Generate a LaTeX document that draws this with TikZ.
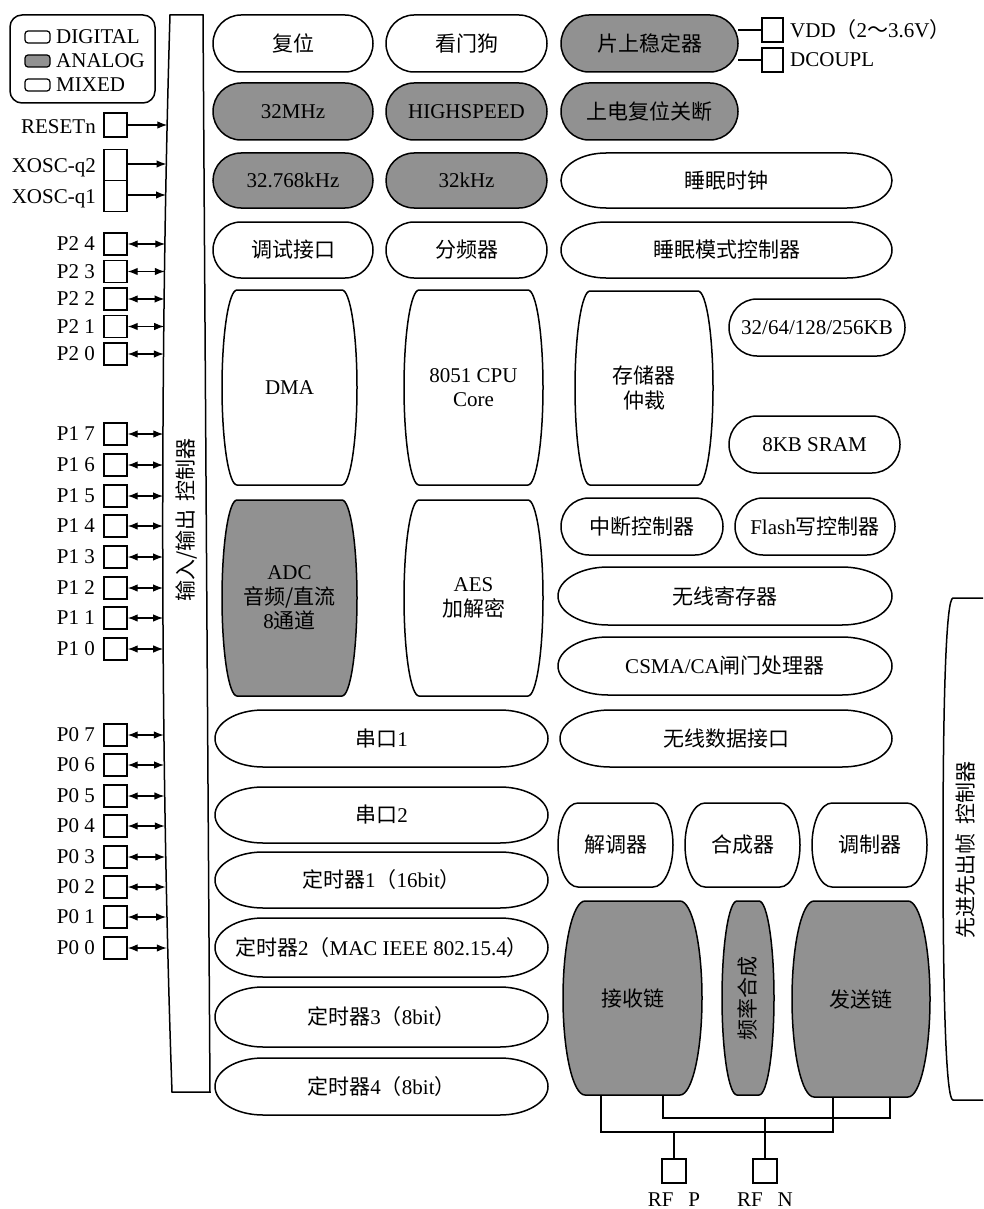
\documentclass[tikz,border=0pt]{standalone}
\usepackage{fontspec}
\setmainfont{Liberation Serif}
\newfontfamily\zh{Noto Sans CJK SC}
\usetikzlibrary{arrows.meta}
\pgfdeclarelayer{bg}
\pgfsetlayers{bg,main}
\definecolor{analog}{RGB}{145,145,145}
\tikzset{
 blkline/.style={draw=black, line width=1.5pt, fill=white},
 ana/.style={fill=analog},
 txt/.style={inner sep=0pt, align=center, font=\fontsize{21}{24.5}\selectfont},
 pinbox/.style={draw, line width=1.3pt, minimum width=23pt, minimum height=22pt, inner sep=0pt},
 pinlbl/.style={anchor=east, inner sep=0pt, font=\fontsize{21}{24}\selectfont},
 lbl/.style={inner sep=0pt, font=\fontsize{21}{24}\selectfont},
 swatch/.style={draw, line width=1.2pt, rounded corners=3pt, minimum width=25pt, minimum height=12pt, inner sep=0pt},
 io/.style={<->, >={Latex[length=10pt,width=7.5pt]}, line width=1.3pt},
 inarrow/.style={->, >={Latex[length=10pt,width=7.5pt]}, line width=1.3pt},
 wire/.style={line width=1.3pt},
}
\newcommand\blk[9]{%
 \pgfmathsetmacro\bxm{(#2+#4)/2}%
 \pgfmathsetmacro\bym{(#3+#5)/2}%
 \pgfmathsetmacro\bw{#4-#2}%
 \pgfmathsetmacro\bh{#5-#3}%
 \pgfmathsetmacro\bkx{0.5523*#6}%
 \pgfmathsetmacro\bky{0.5523*(#5-#3)/2}%
 \pgfmathsetmacro\bxa{#2+#6}%
 \pgfmathsetmacro\bxb{#4-#6}%
 \draw[blkline,#7] (\bxa,#3) -- (\bxb,#3) .. controls (\bxb+\bkx,#3) and (#4,\bym-\bky) .. (#4,\bym) .. controls (#4,\bym+\bky) and (\bxb+\bkx,#5) .. (\bxb,#5) -- (\bxa,#5) .. controls (\bxa-\bkx,#5) and (#2,\bym+\bky) .. (#2,\bym) .. controls (#2,\bym-\bky) and (\bxa-\bkx,#3) .. (\bxa,#3) -- cycle;
 \node[txt,minimum width=\bw pt,minimum height=\bh pt,#8] (#1) at (\bxm,\bym) {#9};
}
\begin{document}
\begin{tikzpicture}[x=1pt,y=-1pt]
\useasboundingbox (0,0) rectangle (983,1209);
% legend
\node[draw, line width=1.5pt, rounded corners=12pt, minimum width=145pt, minimum height=88pt, inner sep=0pt] (legend) at (82.5,59) {};
\node[swatch] (swd) at (37.5,37) {};
\node[swatch, fill=analog] (swa) at (37.5,61) {};
\node[swatch] (swm) at (37.5,85) {};
\node[lbl, anchor=base west] (lgd) at (56,44) {DIGITAL};
\node[lbl, anchor=base west] (lga) at (56,68) {ANALOG};
\node[lbl, anchor=base west] (lgm) at (56,92) {MIXED};
% I/O controller
\draw[blkline] (170,15) -- (203,15) -- (210,1092) -- (172,1092) .. controls (160,750) and (160,350) .. (170,15) -- cycle;
\node[txt, rotate=90] (ioctl) at (187,520) {{\zh 输入/输出}\hspace{0.4em}{\zh 控制器}};
% FIFO controller
\begin{scope}
\clip (0,0) rectangle (983,1209);
\draw[line width=1.5pt] (995,598) -- (953,598) .. controls (946,598) and (943,700) .. (943,850) .. controls (943,1000) and (946,1100) .. (953,1100) -- (995,1100);
\end{scope}
\node[txt, rotate=90] (fifo) at (966,850) {{\zh 先进先出帧}\hspace{0.4em}{\zh 控制器}};
% blocks
\blk{fuwei}{213}{15}{373}{72}{28}{}{}{\zh 复位}
\blk{kanmen}{386}{15}{547}{72}{28}{}{}{\zh 看门狗}
\blk{stab}{561}{15}{738}{72}{28}{ana}{}{\zh 片上稳定器}
\blk{m32}{213}{83}{373}{140}{28}{ana}{}{32MHz}
\blk{hs}{386}{83}{547}{140}{28}{ana}{}{HIGHSPEED}
\blk{por}{561}{83}{738}{140}{28}{ana}{}{\zh 上电复位关断}
\blk{kxtal}{213}{153}{373}{208}{28}{ana}{}{32.768kHz}
\blk{krc}{386}{153}{547}{208}{28}{ana}{}{32kHz}
\blk{sleepclk}{561}{153}{892}{208}{45}{}{}{\zh 睡眠时钟}
\blk{debug}{213}{222}{373}{278}{28}{}{}{\zh 调试接口}
\blk{divider}{386}{222}{547}{278}{28}{}{}{\zh 分频器}
\blk{sleepctl}{561}{222}{892}{278}{45}{}{}{\zh 睡眠模式控制器}
\blk{dma}{222}{290}{357}{485}{15}{}{}{DMA}
\blk{cpu}{404}{290}{543}{485}{15}{}{}{8051 CPU\\Core}
\blk{arb}{575}{291}{713}{485}{15}{}{}{{\zh 存储器}\\{\zh 仲裁}}
\blk{flashmem}{729}{299}{905}{356}{28}{}{}{32/64/128/256KB}
\blk{sram}{729}{416}{900}{473}{28}{}{}{8KB SRAM}
\blk{adc}{222}{500}{357}{696}{15}{ana}{}{ADC\\{\zh 音频/直流}\\8{\zh 通道}}
\blk{aes}{404}{500}{543}{696}{15}{}{}{AES\\{\zh 加解密}}
\blk{irq}{561}{498}{723}{555}{28}{}{}{\zh 中断控制器}
\blk{fwc}{735}{498}{895}{555}{28}{}{}{Flash{\zh 写控制器}}
\blk{radioreg}{558}{567}{892}{625}{50}{}{}{\zh 无线寄存器}
\blk{csma}{558}{637}{892}{695}{50}{}{}{CSMA/CA{\zh 闸门处理器}}
\blk{uartA}{215}{710}{548}{767}{48}{}{}{{\zh 串口}1}
\blk{radiodata}{560}{710}{892}{767}{50}{}{}{\zh 无线数据接口}
\blk{uartB}{215}{787}{548}{843}{48}{}{}{{\zh 串口}2}
\blk{demod}{558}{803}{673}{887}{20}{}{}{\zh 解调器}
\blk{synth}{685}{803}{800}{887}{20}{}{}{\zh 合成器}
\blk{modu}{812}{803}{927}{887}{20}{}{}{\zh 调制器}
\blk{tA}{215}{852}{548}{908}{48}{}{}{{\zh 定时器}1{\zh （}16bit{\zh ）}}
\blk{tB}{215}{918}{548}{977}{48}{}{}{{\zh 定时器}2{\zh （}MAC IEEE 802.15.4{\zh ）}}
\blk{tC}{215}{987}{548}{1047}{48}{}{}{{\zh 定时器}3{\zh （}8bit{\zh ）}}
\blk{tD}{215}{1058}{548}{1115}{48}{}{}{{\zh 定时器}4{\zh （}8bit{\zh ）}}
\blk{rx}{563}{901}{702}{1095}{22}{ana}{}{\zh 接收链}
\blk{fs}{722}{901}{774}{1095}{15}{ana}{}{\rotatebox{90}{\zh 频率合成}}
\blk{tx}{792}{901}{930}{1097}{22}{ana}{}{\zh 发送链}
% VDD / DCOUPL
\node[pinbox, minimum width=21pt, minimum height=24pt] (vdd) at (772.5,30) {};
\node[pinbox, minimum width=21pt, minimum height=24pt] (dcoupl) at (772.5,60) {};
\node[lbl, anchor=west] (vddl) at (790,30) {VDD{\zh （}2{\zh ～}3.6V{\zh ）}};
\node[lbl, anchor=west] (dcoupll) at (790,60) {DCOUPL};
\begin{pgfonlayer}{bg}
\draw[wire] (vdd.west) -- (vdd.west -| stab.east);
\draw[wire] (dcoupl.west) -- (dcoupl.west -| stab.east);
\end{pgfonlayer}
% RESETn, XOSC
\node[pinbox, minimum height=24pt] (rst) at (115.5,125) {};
\node[pinbox, minimum height=31pt] (xq2) at (115.5,165) {};
\node[pinbox, minimum height=31pt] (xq1) at (115.5,196) {};
\node[lbl, anchor=base east] (rstl) at (96,134) {RESETn};
\node[lbl, anchor=base east] (xq2l) at (96,173) {XOSC-q2};
\node[lbl, anchor=base east] (xq1l) at (96,204) {XOSC-q1};
\coordinate (rste) at (167.3,125);
\coordinate (xq2e) at (166.5,164);
\coordinate (xq1e) at (166.0,195);
\draw[inarrow] (rst.east) -- (rste);
\draw[inarrow] (rst.east |- xq2e) -- (xq2e);
\draw[inarrow] (rst.east |- xq1e) -- (xq1e);
% port pins
\foreach \n/\y [count=\i] in {P2 4/244,P2 3/271.5,P2 2/299,P2 1/326.5,P2 0/354,
  P1 7/434,P1 6/465,P1 5/496,P1 4/526,P1 3/557,P1 2/588,P1 1/618,P1 0/649,
  P0 7/735,P0 6/765,P0 5/796,P0 4/826,P0 3/857,P0 2/887,P0 1/917,P0 0/948} {
  \node[pinbox] (pin\i) at (115.5,\y) {};
  \node[pinlbl] (pinl\i) at (95,\y) {\n};
  \pgfmathsetmacro\xe{163+7*((\y-550)/540)^2}
  \coordinate (pe\i) at (\xe,\y);
  \draw[io] (pin\i.east) -- (pe\i);
}
% RF outputs
\coordinate (jp) at (674,1132);
\coordinate (jn) at (765,1118);
\draw[wire] ([xshift=-31.5pt]rx.south) |- (jp) -| ([xshift=-28pt]tx.south);
\draw[wire] ([xshift=30.5pt]rx.south) |- (jn) -| ([xshift=29pt]tx.south);
\node[pinbox, minimum width=24pt, minimum height=24pt] (rfp) at (674,1171) {};
\node[pinbox, minimum width=24pt, minimum height=24pt] (rfn) at (765,1171) {};
\draw[wire] (jp) -- (rfp.north);
\draw[wire] (jn) -- (rfn.north);
\node[lbl, anchor=base] (rfpl) at (674,1206) {RF\hspace{0.7em}P};
\node[lbl, anchor=base] (rfnl) at (765,1206) {RF\hspace{0.7em}N};
\end{tikzpicture}
\end{document}
